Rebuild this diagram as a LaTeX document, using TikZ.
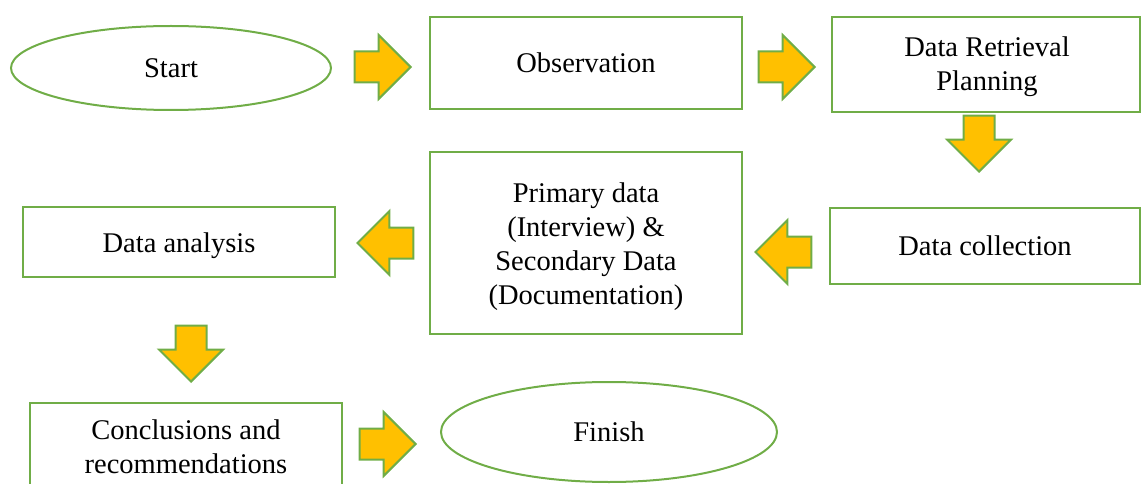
\documentclass[tikz,border=0pt]{standalone}
\usepackage{fontspec}
\setmainfont{Liberation Serif}
\usetikzlibrary{shapes.geometric,shapes.arrows}
\definecolor{bgreen}{HTML}{70AD47}
\definecolor{bgold}{HTML}{FFC000}
\tikzset{
  txt/.style={font=\fontsize{28.5}{34}\selectfont, align=center, text=black},
  box/.style={txt, draw=bgreen, line width=2pt, rectangle, inner sep=0pt},
  oval/.style={txt, draw=bgreen, line width=2pt, ellipse, inner sep=0pt},
  barrow/.style={single arrow, draw=bgreen, fill=bgold, line width=2pt, minimum height=56pt, minimum width=62pt, single arrow head extend=16.5pt, inner sep=0pt, text height=14.5pt, text depth=14.5pt, anchor=tip},
}
\begin{document}
\begin{tikzpicture}[x=1pt,y=-1pt]
\useasboundingbox (0,0) rectangle (1141,484);
\clip (0,0) rectangle (1141,484);
\node[oval, minimum width=320pt, minimum height=84pt] (start) at (171,68) {Start};
\node[box, minimum width=312pt, minimum height=92pt] (obs) at (586,63) {Observation};
\node[box, minimum width=308pt, minimum height=95pt] (plan) at (986,64.5) {};
\node[txt] (plantext) at (987,67) {Data Retrieval\\Planning};
\node[box, minimum width=312pt, minimum height=182pt] (prim) at (586,243) {};
\node[txt] (primtext) at (586,247) {Primary data\\(Interview) \&\\Secondary Data\\(Documentation)};
\node[box, minimum width=310pt, minimum height=76pt] (coll) at (985,246) {Data collection};
\node[box, minimum width=312pt, minimum height=70pt] (anal) at (179,242) {};
\node[txt] (analtext) at (179,246) {Data analysis};
\node[box, minimum width=312pt, minimum height=100pt, anchor=north] (concl) at (186,402) {};
\node[txt] (concltext) at (186,447) {Conclusions and\\recommendations};
\node[oval, minimum width=336pt, minimum height=100pt] (fin) at (609,432) {Finish};
\node[barrow] (a1) at (412,67) {};
\node[barrow] (a2) at (816,67) {};
\node[barrow, rotate=-90] (a3) at (979,173) {};
\node[barrow, rotate=180] (a4) at (754,252) {};
\node[barrow, rotate=180] (a5) at (356,243) {};
\node[barrow, rotate=-90] (a6) at (191,383) {};
\node[barrow] (a7) at (417,444) {};
\end{tikzpicture}
\end{document}
